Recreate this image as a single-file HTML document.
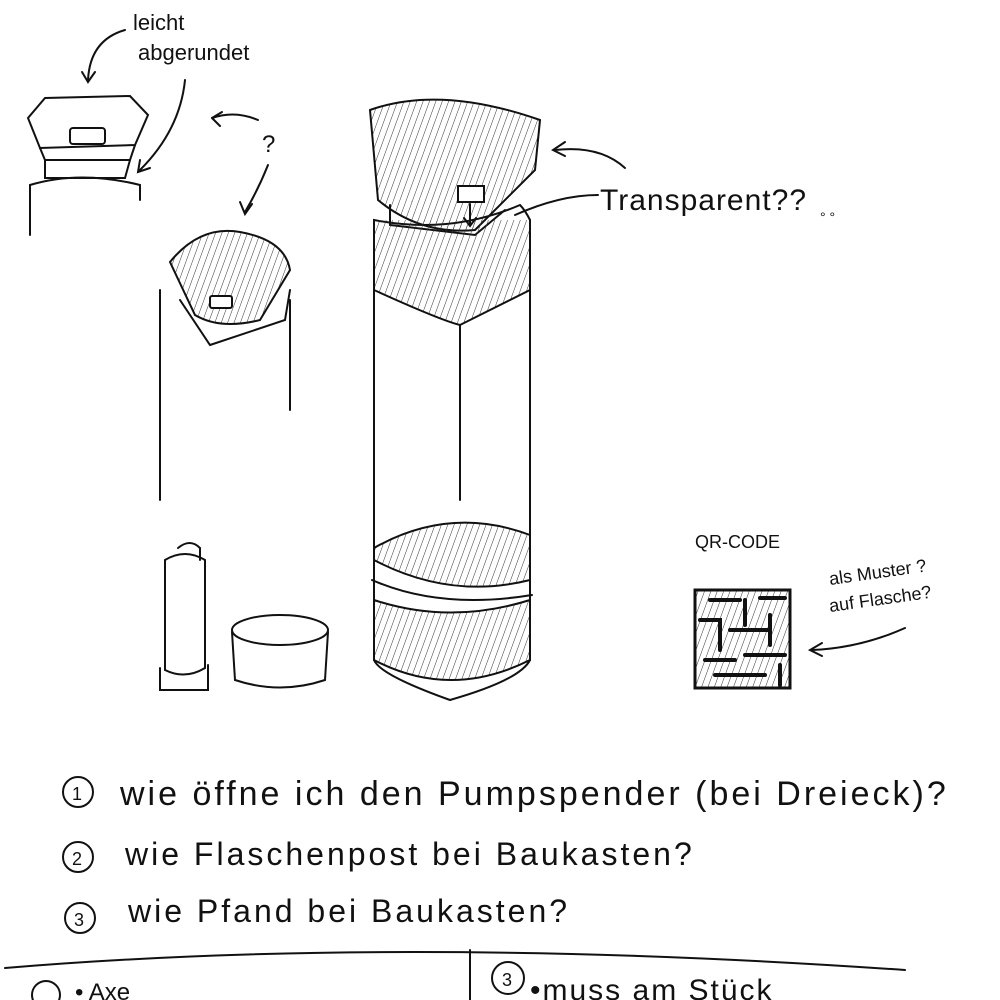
<!DOCTYPE html>
<html><head><meta charset="utf-8"><style>
html,body{margin:0;padding:0;background:#fff;width:1000px;height:1000px;overflow:hidden}
svg{display:block}
text{font-family:"Liberation Sans",sans-serif;fill:#111}
</style></head><body>
<svg width="1000" height="1000" viewBox="0 0 1000 1000" fill="none" stroke="#111" stroke-width="2" stroke-linecap="round">
<defs>
<pattern id="h" width="6" height="6" patternUnits="userSpaceOnUse" patternTransform="rotate(20)">
<line x1="0" y1="0" x2="0" y2="6" stroke="#333" stroke-width="1"/></pattern>
</defs>
<!-- top left cap -->
<path d="M28 118 L45 98 L130 96 L148 115 L135 145 L40 148 Z"/>
<path d="M40 148 L45 160 L130 160 L135 145"/>
<rect x="70" y="128" width="35" height="16" rx="3"/>
<path d="M45 160 L45 178 L125 178 L130 160"/>
<path d="M30 235 L30 185 Q80 170 140 185 L140 200"/>
<text x="133" y="30" font-size="22" stroke="none">leicht</text>
<text x="138" y="60" font-size="22" stroke="none">abgerundet</text>
<path d="M125 30 Q90 40 88 80"/><path d="M82 72 L88 82 L95 72"/>
<path d="M185 80 Q180 130 140 170"/><path d="M140 160 L138 172 L150 168"/>
<text x="262" y="152" font-size="24" stroke="none">?</text>
<path d="M258 120 Q235 110 212 118"/><path d="M212 118 L222 112 M212 118 L220 126"/>
<path d="M268 165 Q258 190 245 212"/><path d="M240 202 L245 214 L252 204"/>
<!-- second cap -->
<path d="M170 262 Q200 225 240 232 Q285 240 290 270 L260 320 Q220 330 195 315 Z" fill="url(#h)"/>
<rect x="210" y="296" width="22" height="12" rx="2" fill="#fff"/>
<path d="M180 300 L210 345 L285 320 L290 290"/>
<path d="M160 500 L160 290 M290 300 L290 410"/>
<!-- main bottle -->
<path d="M370 110 Q440 85 540 120 L535 170 L475 230 Q420 235 378 200 Z" fill="url(#h)"/>
<rect x="458" y="186" width="26" height="16" fill="#fff"/>
<path d="M470 204 L470 225 M464 218 L470 226 L476 218"/>
<path d="M390 205 L390 225 L475 235 L505 210"/>
<path d="M374 220 L374 660 Q380 675 450 700 Q520 680 530 660 L530 220 Q525 210 520 205 Q450 235 374 220 Z"/>
<path d="M374 220 L374 290 Q440 320 460 325 L530 290 L530 220" fill="url(#h)"/>
<path d="M460 325 L460 500"/>
<path d="M374 548 Q450 505 530 535 L530 580 Q450 600 374 560 Z" fill="url(#h)"/>
<path d="M374 600 Q450 625 530 600 L530 660 Q450 700 374 660 Z" fill="url(#h)"/>
<path d="M372 580 Q440 610 532 595"/>
<text x="600" y="210" font-size="30" stroke="none" letter-spacing="1">Transparent??</text>
<text x="820" y="222" font-size="14" stroke="none">° °</text>
<path d="M625 168 Q600 145 555 150"/><path d="M565 142 L553 150 L565 156"/>
<path d="M598 195 Q560 195 515 215"/>
<!-- small items -->
<path d="M165 560 L165 670 Q185 680 205 668 L205 560 Q185 548 165 560 Z"/>
<path d="M178 548 Q190 538 200 548 L200 560"/>
<path d="M160 668 L160 690 L208 690 L208 665"/>
<ellipse cx="280" cy="630" rx="48" ry="15"/>
<path d="M232 632 L235 680 Q280 695 325 680 L328 632"/>
<!-- QR -->
<text x="695" y="548" font-size="18" stroke="none">QR-CODE</text>
<rect x="695" y="590" width="95" height="98" fill="url(#h)" stroke-width="3"/>
<path d="M710 600 h30 M745 600 v25 M760 598 h25 M700 620 h20 v30 M730 630 h40 M770 615 v30 M705 660 h30 M745 655 h40 M715 675 h50 M780 665 v20" stroke-width="4"/>
<text x="830" y="585" font-size="18" stroke="none" transform="rotate(-8 830 585)">als Muster ?</text>
<text x="830" y="612" font-size="18" stroke="none" transform="rotate(-8 830 612)">auf Flasche?</text>
<path d="M905 628 Q860 648 812 650"/><path d="M822 643 L810 650 L822 656"/>
<!-- questions -->
<circle cx="78" cy="792" r="15"/><text x="72" y="800" font-size="18" stroke="none">1</text>
<text x="120" y="805" font-size="34" stroke="none" letter-spacing="3">wie öffne ich den Pumpspender (bei Dreieck)?</text>
<circle cx="78" cy="857" r="15"/><text x="72" y="865" font-size="18" stroke="none">2</text>
<text x="125" y="865" font-size="32" stroke="none" letter-spacing="3">wie Flaschenpost bei Baukasten?</text>
<circle cx="80" cy="918" r="15"/><text x="74" y="926" font-size="18" stroke="none">3</text>
<text x="128" y="922" font-size="32" stroke="none" letter-spacing="3">wie Pfand bei Baukasten?</text>
<path d="M5 968 Q400 935 905 970"/>
<path d="M470 950 L470 1000"/>
<circle cx="46" cy="995" r="14"/><text x="75" y="1000" font-size="24" stroke="none">• Axe</text>
<circle cx="508" cy="978" r="16"/><text x="502" y="986" font-size="18" stroke="none">3</text>
<text x="530" y="1000" font-size="30" stroke="none" letter-spacing="2">•muss am Stück</text>
</svg>
</body></html>
